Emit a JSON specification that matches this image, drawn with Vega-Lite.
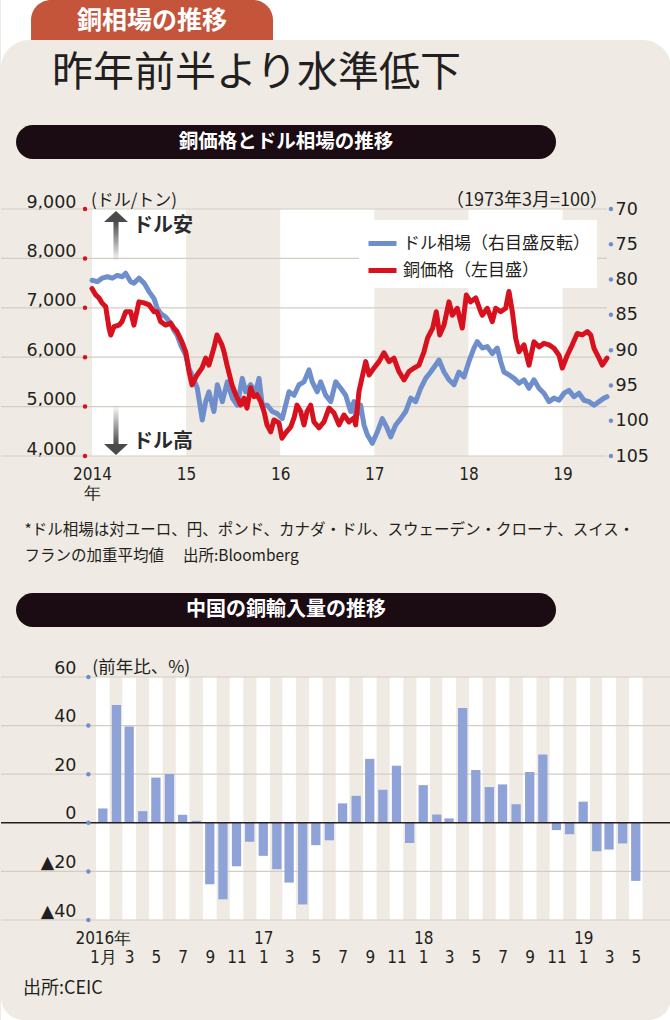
{
  "$schema": "https://vega.github.io/schema/vega-lite/v6.json",
  "padding": 0,
  "background": "#EFEBE4",
  "spacing": 0,
  "bounds": "flush",
  "config": {"view": {"stroke": null}, "font": "Noto Sans CJK JP", "axis": {"labelOverlap": false, "labelSeparation": -200, "labelFlush": false, "labelLimit": 400}},
  "vconcat": [
    {
      "width": 670, "height": 40,
      "view": {"fill": "#ffffff", "stroke": null},
      "data": {"values": [{"label": "銅相場の推移"}]},
      "layer": [
        {"mark": {"type": "rect", "fill": "#C4553A", "cornerRadiusTopLeft": 22, "cornerRadiusTopRight": 22},
         "encoding": {
           "x": {"datum": 0.0448, "scale": {"domain": [0, 1], "nice": false, "zero": false}, "axis": null},
           "x2": {"datum": 0.406},
           "y": {"datum": 1, "scale": {"domain": [0, 1], "nice": false, "zero": false}, "axis": null},
           "y2": {"datum": 0}}},
        {"mark": {"type": "text", "color": "#ffffff", "fontSize": 25, "fontWeight": "bold", "align": "center", "baseline": "middle"},
         "encoding": {"x": {"datum": 0.2254, "axis": null}, "y": {"datum": 0.475, "axis": null}, "text": {"field": "label"}}}
      ]
    },
    {
      "width": 670, "height": 169,
      "view": {"fill": "#ffffff", "stroke": null},
      "data": {"values": [{"title": "昨年前半より水準低下", "banner": "銅価格とドル相場の推移"}]},
      "layer": [
        {"mark": {"type": "rect", "fill": "#EFEBE4", "cornerRadiusTopLeft": 28, "cornerRadiusTopRight": 28},
         "encoding": {
           "x": {"datum": 0, "scale": {"domain": [0, 1], "nice": false, "zero": false}, "axis": null},
           "x2": {"datum": 1},
           "y": {"datum": 1, "scale": {"domain": [0, 1], "nice": false, "zero": false}, "axis": null},
           "y2": {"datum": 0}}},
        {"mark": {"type": "text", "color": "#231F20", "fontSize": 41, "fontWeight": "normal", "align": "left", "baseline": "middle"},
         "encoding": {"x": {"datum": 0.076, "axis": null}, "y": {"datum": 0.799, "axis": null}, "text": {"field": "title"}}},
        {"mark": {"type": "rect", "fill": "#1B0B12", "cornerRadius": 17},
         "encoding": {"x": {"datum": 0.0224, "axis": null}, "x2": {"datum": 0.8284}, "y": {"datum": 0.497, "axis": null}, "y2": {"datum": 0.296}}},
        {"mark": {"type": "text", "color": "#ffffff", "fontSize": 19.5, "fontWeight": "bold", "align": "center", "baseline": "middle"},
         "encoding": {"x": {"datum": 0.4254, "axis": null}, "y": {"datum": 0.3964, "axis": null}, "text": {"field": "banner"}}}
      ]
    },
    {
      "width": 606, "height": 247,
      "resolve": {"scale": {"y": "independent"}},
      "layer": [
        {
          "layer": [
            {"data": {"values": [{"from": 2014, "to": 2015}, {"from": 2016, "to": 2017}, {"from": 2018, "to": 2019}]},
             "mark": {"type": "rect", "fill": "#ffffff"},
             "encoding": {
               "x": {"field": "from", "type": "quantitative", "title": null,
                     "scale": {"domain": [2013.033, 2019.473], "nice": false, "zero": false},
                     "axis": {"orient": "bottom", "values": [2014, 2015, 2016, 2017, 2018, 2019], "tickCount": 50,
                              "labelExpr": "datum.value == 2014 ? ['2014', '年'] : '' + (datum.value - 2000)",
                              "grid": false, "ticks": false, "domain": false,
                              "labelFont": "DejaVu Sans Condensed, Liberation Sans Narrow, Liberation Sans, sans-serif", "labelFontSize": 17, "labelColor": "#231F20",
                              "labelPadding": 10, "labelLineHeight": 19, "labelBaseline": "top",
                              "labelFlush": false, "labelOverlap": false, "labelSeparation": -200}},
               "x2": {"field": "to"},
               "y": {"datum": 9000, "title": null, "scale": {"domain": [4000, 9000], "nice": false, "zero": false}},
               "y2": {"datum": 4000}}},
            {"data": {"values": [{"price": 4000}, {"price": 5000}, {"price": 6000}, {"price": 7000}, {"price": 8000}, {"price": 9000}]},
             "mark": {"type": "rule", "color": "#D3CDC4", "strokeWidth": 1.2},
             "encoding": {
               "y": {"field": "price", "type": "quantitative", "title": null,
                     "scale": {"domain": [4000, 9000], "nice": false, "zero": false},
                     "axis": {"orient": "left", "values": [4000, 5000, 6000, 7000, 8000, 9000], "tickCount": 50, "format": ",d",
                              "grid": false, "ticks": false, "tickSize": 0, "domain": false,
                              "labelPadding": -75, "labelAlign": "right", "labelBaseline": "alphabetic", "labelOffset": -2,
                              "labelFont": "DejaVu Sans", "labelFontSize": 17.5, "labelColor": "#231F20",
                              "labelFlush": false, "labelOverlap": false, "labelSeparation": -200}}}}
          ]
        },
        {
          "layer": [
            {"data": {"values": [
              {"year": 2014.000, "index": 80.1}, {"year": 2014.056, "index": 80.3}, {"year": 2014.109, "index": 79.8}, {"year": 2014.163, "index": 79.6},
              {"year": 2014.216, "index": 79.8}, {"year": 2014.269, "index": 79.4}, {"year": 2014.322, "index": 79.6}, {"year": 2014.358, "index": 79.1},
              {"year": 2014.411, "index": 80.3}, {"year": 2014.446, "index": 80.5}, {"year": 2014.499, "index": 79.8}, {"year": 2014.553, "index": 80.5},
              {"year": 2014.606, "index": 81.7}, {"year": 2014.659, "index": 82.7}, {"year": 2014.694, "index": 84.1}, {"year": 2014.730, "index": 84.8},
              {"year": 2014.783, "index": 85.3}, {"year": 2014.836, "index": 86.2}, {"year": 2014.871, "index": 87.2}, {"year": 2014.906, "index": 87.9},
              {"year": 2014.943, "index": 89.3}, {"year": 2014.996, "index": 90.7}, {"year": 2015.031, "index": 92.6}, {"year": 2015.084, "index": 94.2},
              {"year": 2015.119, "index": 95.4}, {"year": 2015.172, "index": 99.9}, {"year": 2015.208, "index": 97.3}, {"year": 2015.243, "index": 95.9},
              {"year": 2015.296, "index": 98.7}, {"year": 2015.332, "index": 94.9}, {"year": 2015.385, "index": 97.3}, {"year": 2015.438, "index": 94.5},
              {"year": 2015.491, "index": 96.8}, {"year": 2015.544, "index": 97.8}, {"year": 2015.597, "index": 94.0}, {"year": 2015.633, "index": 95.9},
              {"year": 2015.686, "index": 94.9}, {"year": 2015.740, "index": 95.9}, {"year": 2015.775, "index": 94.0}, {"year": 2015.810, "index": 97.8},
              {"year": 2015.863, "index": 97.8}, {"year": 2015.916, "index": 98.7}, {"year": 2015.969, "index": 99.0}, {"year": 2016.022, "index": 99.7},
              {"year": 2016.058, "index": 97.8}, {"year": 2016.094, "index": 95.9}, {"year": 2016.147, "index": 96.4}, {"year": 2016.200, "index": 94.9},
              {"year": 2016.253, "index": 94.5}, {"year": 2016.306, "index": 92.8}, {"year": 2016.341, "index": 94.5}, {"year": 2016.394, "index": 95.9},
              {"year": 2016.430, "index": 94.5}, {"year": 2016.484, "index": 96.4}, {"year": 2016.537, "index": 97.3}, {"year": 2016.590, "index": 94.5},
              {"year": 2016.643, "index": 95.4}, {"year": 2016.696, "index": 96.4}, {"year": 2016.749, "index": 98.7}, {"year": 2016.784, "index": 97.3},
              {"year": 2016.802, "index": 99.7}, {"year": 2016.855, "index": 97.8}, {"year": 2016.891, "index": 100.6}, {"year": 2016.926, "index": 102.0},
              {"year": 2016.979, "index": 103.2}, {"year": 2017.032, "index": 101.6}, {"year": 2017.085, "index": 99.7}, {"year": 2017.138, "index": 101.1},
              {"year": 2017.174, "index": 102.3}, {"year": 2017.227, "index": 100.6}, {"year": 2017.281, "index": 99.7}, {"year": 2017.334, "index": 98.7},
              {"year": 2017.387, "index": 96.8}, {"year": 2017.440, "index": 97.3}, {"year": 2017.493, "index": 95.4}, {"year": 2017.546, "index": 94.0},
              {"year": 2017.599, "index": 93.1}, {"year": 2017.652, "index": 92.1}, {"year": 2017.688, "index": 91.4}, {"year": 2017.741, "index": 93.1},
              {"year": 2017.794, "index": 94.2}, {"year": 2017.847, "index": 94.9}, {"year": 2017.900, "index": 93.1}, {"year": 2017.953, "index": 93.8},
              {"year": 2018.006, "index": 91.6}, {"year": 2018.059, "index": 89.7}, {"year": 2018.094, "index": 88.8}, {"year": 2018.148, "index": 89.7},
              {"year": 2018.201, "index": 89.5}, {"year": 2018.254, "index": 90.5}, {"year": 2018.307, "index": 89.7}, {"year": 2018.343, "index": 91.6},
              {"year": 2018.378, "index": 93.1}, {"year": 2018.431, "index": 93.5}, {"year": 2018.485, "index": 94.0}, {"year": 2018.538, "index": 94.7},
              {"year": 2018.591, "index": 94.2}, {"year": 2018.644, "index": 95.4}, {"year": 2018.697, "index": 94.2}, {"year": 2018.750, "index": 95.4},
              {"year": 2018.803, "index": 96.1}, {"year": 2018.857, "index": 97.3}, {"year": 2018.910, "index": 96.8}, {"year": 2018.963, "index": 97.1},
              {"year": 2019.016, "index": 96.1}, {"year": 2019.069, "index": 95.7}, {"year": 2019.122, "index": 96.6}, {"year": 2019.175, "index": 96.1},
              {"year": 2019.228, "index": 97.1}, {"year": 2019.281, "index": 97.3}, {"year": 2019.335, "index": 97.8}, {"year": 2019.388, "index": 97.3},
              {"year": 2019.441, "index": 96.8}, {"year": 2019.473, "index": 96.6}
             ]},
             "mark": {"type": "line", "strokeWidth": 5, "strokeJoin": "round", "strokeCap": "round"},
             "encoding": {
               "x": {"field": "year", "type": "quantitative", "title": null},
               "y": {"field": "index", "type": "quantitative", "title": null,
                     "scale": {"domain": [70, 105], "reverse": true, "nice": false, "zero": false},
                     "axis": {"orient": "right", "values": [70, 75, 80, 85, 90, 95, 100, 105], "tickCount": 50, "format": "d",
                              "grid": false, "ticks": false, "tickSize": 0, "domain": false,
                              "labelPadding": 8, "labelAlign": "left", "labelBaseline": "middle",
                              "labelFont": "DejaVu Sans", "labelFontSize": 17.5, "labelColor": "#231F20",
                              "labelFlush": false, "labelOverlap": false, "labelSeparation": -200}},
               "color": {"datum": "ドル相場（右目盛反転）",
                         "scale": {"domain": ["ドル相場（右目盛反転）", "銅価格（左目盛）"], "range": ["#6F8FCC", "#D7111E"]},
                         "legend": {"orient": "none", "legendX": 358, "legendY": 220, "title": null,
                                    "symbolType": "stroke", "symbolStrokeWidth": 5, "symbolSize": 784,
                                    "labelFontSize": 17, "labelFont": "Noto Sans CJK JP", "labelColor": "#231F20", "labelLimit": 400,
                                    "fillColor": "#ffffff", "padding": 7, "rowPadding": -8, "labelOffset": 4}}}},
            {"data": {"values": [{"index": 70}, {"index": 75}, {"index": 80}, {"index": 85}, {"index": 90}, {"index": 95}, {"index": 100}, {"index": 105}]},
             "mark": {"type": "point", "filled": true, "size": 20, "color": "#6F8FCC", "opacity": 1, "clip": false},
             "encoding": {
               "x": {"datum": 2019.515, "title": null},
               "y": {"field": "index", "type": "quantitative", "title": null}}}
          ]
        },
        {
          "layer": [
            {"data": {"values": [
              {"year": 2014.000, "price": 7390}, {"year": 2014.040, "price": 7260}, {"year": 2014.074, "price": 7200}, {"year": 2014.106, "price": 7100},
              {"year": 2014.146, "price": 7020}, {"year": 2014.181, "price": 6590}, {"year": 2014.199, "price": 6450}, {"year": 2014.234, "price": 6620},
              {"year": 2014.287, "price": 6650}, {"year": 2014.319, "price": 6720}, {"year": 2014.358, "price": 6920}, {"year": 2014.411, "price": 6920},
              {"year": 2014.446, "price": 6650}, {"year": 2014.499, "price": 7120}, {"year": 2014.553, "price": 7100}, {"year": 2014.606, "price": 7060},
              {"year": 2014.659, "price": 6920}, {"year": 2014.691, "price": 6920}, {"year": 2014.730, "price": 6720}, {"year": 2014.783, "price": 6650},
              {"year": 2014.836, "price": 6690}, {"year": 2014.871, "price": 6590}, {"year": 2014.903, "price": 6520}, {"year": 2014.956, "price": 6310},
              {"year": 2014.996, "price": 6110}, {"year": 2015.031, "price": 5710}, {"year": 2015.063, "price": 5440}, {"year": 2015.116, "price": 5640},
              {"year": 2015.169, "price": 5780}, {"year": 2015.208, "price": 5980}, {"year": 2015.243, "price": 5840}, {"year": 2015.296, "price": 6190},
              {"year": 2015.328, "price": 6450}, {"year": 2015.381, "price": 6250}, {"year": 2015.403, "price": 6110}, {"year": 2015.435, "price": 5840},
              {"year": 2015.488, "price": 5440}, {"year": 2015.527, "price": 5240}, {"year": 2015.580, "price": 5030}, {"year": 2015.615, "price": 5170},
              {"year": 2015.647, "price": 4970}, {"year": 2015.686, "price": 5380}, {"year": 2015.722, "price": 5200}, {"year": 2015.753, "price": 5240},
              {"year": 2015.793, "price": 5100}, {"year": 2015.828, "price": 4900}, {"year": 2015.860, "price": 4630}, {"year": 2015.899, "price": 4490},
              {"year": 2015.934, "price": 4730}, {"year": 2015.987, "price": 4670}, {"year": 2016.019, "price": 4360}, {"year": 2016.058, "price": 4470},
              {"year": 2016.112, "price": 4590}, {"year": 2016.147, "price": 4770}, {"year": 2016.179, "price": 5030}, {"year": 2016.218, "price": 4900},
              {"year": 2016.253, "price": 4630}, {"year": 2016.285, "price": 4900}, {"year": 2016.324, "price": 5030}, {"year": 2016.359, "price": 4690},
              {"year": 2016.412, "price": 4570}, {"year": 2016.465, "price": 4690}, {"year": 2016.519, "price": 4970}, {"year": 2016.572, "price": 4870},
              {"year": 2016.625, "price": 4630}, {"year": 2016.678, "price": 4830}, {"year": 2016.731, "price": 4690}, {"year": 2016.784, "price": 4770},
              {"year": 2016.802, "price": 4630}, {"year": 2016.837, "price": 5300}, {"year": 2016.869, "price": 5580}, {"year": 2016.909, "price": 5910},
              {"year": 2016.944, "price": 5640}, {"year": 2016.997, "price": 5780}, {"year": 2017.050, "price": 5910}, {"year": 2017.103, "price": 6090},
              {"year": 2017.156, "price": 5910}, {"year": 2017.209, "price": 5980}, {"year": 2017.262, "price": 5710}, {"year": 2017.316, "price": 5540},
              {"year": 2017.369, "price": 5710}, {"year": 2017.422, "price": 5780}, {"year": 2017.475, "price": 5840}, {"year": 2017.528, "price": 6110},
              {"year": 2017.567, "price": 6390}, {"year": 2017.621, "price": 6590}, {"year": 2017.659, "price": 6920}, {"year": 2017.695, "price": 6450},
              {"year": 2017.741, "price": 6650}, {"year": 2017.794, "price": 7120}, {"year": 2017.829, "price": 6850}, {"year": 2017.882, "price": 6990},
              {"year": 2017.935, "price": 6590}, {"year": 2017.978, "price": 7260}, {"year": 2018.024, "price": 7120}, {"year": 2018.078, "price": 7200},
              {"year": 2018.131, "price": 6920}, {"year": 2018.148, "price": 6850}, {"year": 2018.201, "price": 6990}, {"year": 2018.254, "price": 6720},
              {"year": 2018.290, "price": 6990}, {"year": 2018.343, "price": 6920}, {"year": 2018.396, "price": 6990}, {"year": 2018.431, "price": 7330},
              {"year": 2018.467, "price": 6920}, {"year": 2018.503, "price": 6380}, {"year": 2018.538, "price": 6110}, {"year": 2018.591, "price": 6250},
              {"year": 2018.644, "price": 5840}, {"year": 2018.697, "price": 6310}, {"year": 2018.750, "price": 6210}, {"year": 2018.803, "price": 6280},
              {"year": 2018.857, "price": 6250}, {"year": 2018.910, "price": 6180}, {"year": 2018.963, "price": 6040}, {"year": 2018.998, "price": 5780},
              {"year": 2019.051, "price": 6040}, {"year": 2019.104, "price": 6250}, {"year": 2019.157, "price": 6480}, {"year": 2019.210, "price": 6450},
              {"year": 2019.264, "price": 6520}, {"year": 2019.300, "price": 6450}, {"year": 2019.335, "price": 6180}, {"year": 2019.388, "price": 5980},
              {"year": 2019.423, "price": 5840}, {"year": 2019.473, "price": 5980}
             ]},
             "mark": {"type": "line", "strokeWidth": 5, "strokeJoin": "round", "strokeCap": "round"},
             "encoding": {
               "x": {"field": "year", "type": "quantitative", "title": null},
               "y": {"field": "price", "type": "quantitative", "title": null,
                     "scale": {"domain": [4000, 9000], "nice": false, "zero": false}, "axis": null},
               "color": {"datum": "銅価格（左目盛）"}}},
            {"data": {"values": [{"price": 4000}, {"price": 5000}, {"price": 6000}, {"price": 7000}, {"price": 8000}, {"price": 9000}]},
             "mark": {"type": "point", "filled": true, "size": 20, "color": "#D7111E", "opacity": 1, "clip": false},
             "encoding": {
               "x": {"datum": 2013.926, "title": null},
               "y": {"field": "price", "type": "quantitative", "axis": null}}},
            {"data": {"values": [{}]},
             "mark": {"type": "rect", "fill": {"gradient": "linear", "x1": 0, "y1": 0, "x2": 0, "y2": 1,
                       "stops": [{"offset": 0, "color": "#4A4A4A"}, {"offset": 1, "color": "rgba(74,74,74,0)"}]}},
             "encoding": {"x": {"datum": 2014.228, "title": null}, "x2": {"datum": 2014.282},
                          "y": {"datum": 8740, "axis": null}, "y2": {"datum": 7930}}},
            {"data": {"values": [{}]},
             "mark": {"type": "rect", "fill": {"gradient": "linear", "x1": 0, "y1": 0, "x2": 0, "y2": 1,
                       "stops": [{"offset": 0, "color": "rgba(74,74,74,0)"}, {"offset": 1, "color": "#4A4A4A"}]}},
             "encoding": {"x": {"datum": 2014.228, "title": null}, "x2": {"datum": 2014.282},
                          "y": {"datum": 5030, "axis": null}, "y2": {"datum": 4230}}},
            {"data": {"values": [{}]},
             "mark": {"type": "point", "filled": true, "opacity": 1, "color": "#4A4A4A", "size": 576, "shape": "M-1,0.46L0,-0.46L1,0.46Z", "clip": false},
             "encoding": {"x": {"datum": 2014.255, "title": null}, "y": {"datum": 8848, "axis": null}}},
            {"data": {"values": [{}]},
             "mark": {"type": "point", "filled": true, "opacity": 1, "color": "#4A4A4A", "size": 576, "shape": "M-1,-0.46L0,0.46L1,-0.46Z", "clip": false},
             "encoding": {"x": {"datum": 2014.255, "title": null}, "y": {"datum": 4132, "axis": null}}},
            {"data": {"values": [{}]},
             "mark": {"type": "text", "text": "ドル安", "fontSize": 20, "fontWeight": "bold", "color": "#2B2B2B", "align": "left", "baseline": "middle"},
             "encoding": {"x": {"datum": 2014.436, "title": null}, "y": {"datum": 8655, "axis": null}}},
            {"data": {"values": [{}]},
             "mark": {"type": "text", "text": "ドル高", "fontSize": 20, "fontWeight": "bold", "color": "#2B2B2B", "align": "left", "baseline": "middle"},
             "encoding": {"x": {"datum": 2014.436, "title": null}, "y": {"datum": 4283, "axis": null}}},
            {"data": {"values": [{}]},
             "mark": {"type": "text", "text": "(ドル/トン)", "fontSize": 17, "color": "#231F20", "align": "left", "baseline": "alphabetic", "dy": -3, "clip": false},
             "encoding": {"x": {"datum": 2013.989, "title": null}, "y": {"datum": 9000, "axis": null}}},
            {"data": {"values": [{}]},
             "mark": {"type": "text", "text": "（1973年3月=100）", "fontSize": 18, "color": "#231F20", "align": "right", "baseline": "alphabetic", "dy": -3, "clip": false},
             "encoding": {"x": {"datum": 2019.483, "title": null}, "y": {"datum": 9000, "axis": null}}}
          ]
        }
      ]
    },
    {
      "width": 670, "height": 221,
      "data": {"values": [{"note1": "*ドル相場は対ユーロ、円、ポンド、カナダ・ドル、スウェーデン・クローナ、スイス・", "note2": "　フランの加重平均値　 出所:Bloomberg", "banner": "中国の銅輸入量の推移"}]},
      "layer": [
        {"mark": {"type": "text", "color": "#231F20", "fontSize": 15.5, "align": "left", "baseline": "middle"},
         "encoding": {
           "x": {"datum": 0.035, "scale": {"domain": [0, 1], "nice": false, "zero": false}, "axis": null},
           "y": {"datum": 0.665, "scale": {"domain": [0, 1], "nice": false, "zero": false}, "axis": null},
           "text": {"field": "note1"}}},
        {"mark": {"type": "text", "color": "#231F20", "fontSize": 15.5, "align": "left", "baseline": "middle"},
         "encoding": {"x": {"datum": 0.035, "axis": null}, "y": {"datum": 0.5475, "axis": null}, "text": {"field": "note2"}}},
        {"mark": {"type": "rect", "fill": "#1B0B12", "cornerRadius": 17},
         "encoding": {"x": {"datum": 0.0224, "axis": null}, "x2": {"datum": 0.8284}, "y": {"datum": 0.380, "axis": null}, "y2": {"datum": 0.2262}}},
        {"mark": {"type": "text", "color": "#ffffff", "fontSize": 20, "fontWeight": "bold", "align": "center", "baseline": "middle"},
         "encoding": {"x": {"datum": 0.4254, "axis": null}, "y": {"datum": 0.3032, "axis": null}, "text": {"field": "banner"}}}
      ]
    },
    {
      "width": 670, "height": 243,
      "data": {"values": [
        {"date": "2016-01-01", "yoy": 5.9}, {"date": "2016-02-01", "yoy": 48.5}, {"date": "2016-03-01", "yoy": 39.6}, {"date": "2016-04-01", "yoy": 4.8},
        {"date": "2016-05-01", "yoy": 18.6}, {"date": "2016-06-01", "yoy": 20.1}, {"date": "2016-07-01", "yoy": 3.3}, {"date": "2016-08-01", "yoy": 0.8},
        {"date": "2016-09-01", "yoy": -25.3}, {"date": "2016-10-01", "yoy": -31.5}, {"date": "2016-11-01", "yoy": -17.9}, {"date": "2016-12-01", "yoy": -7.8},
        {"date": "2017-01-01", "yoy": -13.6}, {"date": "2017-02-01", "yoy": -19.1}, {"date": "2017-03-01", "yoy": -24.6}, {"date": "2017-04-01", "yoy": -33.6},
        {"date": "2017-05-01", "yoy": -9.2}, {"date": "2017-06-01", "yoy": -7.2}, {"date": "2017-07-01", "yoy": 8.0}, {"date": "2017-08-01", "yoy": 11.1},
        {"date": "2017-09-01", "yoy": 26.3}, {"date": "2017-10-01", "yoy": 13.6}, {"date": "2017-11-01", "yoy": 23.5}, {"date": "2017-12-01", "yoy": -8.3},
        {"date": "2018-01-01", "yoy": 15.5}, {"date": "2018-02-01", "yoy": 3.4}, {"date": "2018-03-01", "yoy": 1.8}, {"date": "2018-04-01", "yoy": 47.2},
        {"date": "2018-05-01", "yoy": 21.7}, {"date": "2018-06-01", "yoy": 14.7}, {"date": "2018-07-01", "yoy": 15.8}, {"date": "2018-08-01", "yoy": 7.6},
        {"date": "2018-09-01", "yoy": 20.9}, {"date": "2018-10-01", "yoy": 28.1}, {"date": "2018-11-01", "yoy": -3.0}, {"date": "2018-12-01", "yoy": -4.7},
        {"date": "2019-01-01", "yoy": 8.7}, {"date": "2019-02-01", "yoy": -11.7}, {"date": "2019-03-01", "yoy": -11.0}, {"date": "2019-04-01", "yoy": -8.5},
        {"date": "2019-05-01", "yoy": -23.9}
      ], "format": {"parse": {"date": "utc:'%Y-%m-%d'"}}},
      "layer": [
        {"transform": [{"filter": "utcmonth(datum.date) % 2 == 0"}],
         "mark": {"type": "bar", "fill": "#ffffff", "size": 13.6},
         "encoding": {
           "x": {"field": "date", "type": "temporal", "title": null,
                 "scale": {"type": "utc", "domain": [{"year": 2015, "month": 5, "date": 25, "utc": true}, {"year": 2019, "month": 7, "date": 9, "utc": true}]},
                 "axis": {"orient": "bottom", "tickCount": 100,
                          "values": [
                            {"year": 2016, "month": 1, "date": 1, "utc": true}, {"year": 2016, "month": 3, "date": 1, "utc": true},
                            {"year": 2016, "month": 5, "date": 1, "utc": true}, {"year": 2016, "month": 7, "date": 1, "utc": true},
                            {"year": 2016, "month": 9, "date": 1, "utc": true}, {"year": 2016, "month": 11, "date": 1, "utc": true},
                            {"year": 2017, "month": 1, "date": 1, "utc": true}, {"year": 2017, "month": 3, "date": 1, "utc": true},
                            {"year": 2017, "month": 5, "date": 1, "utc": true}, {"year": 2017, "month": 7, "date": 1, "utc": true},
                            {"year": 2017, "month": 9, "date": 1, "utc": true}, {"year": 2017, "month": 11, "date": 1, "utc": true},
                            {"year": 2018, "month": 1, "date": 1, "utc": true}, {"year": 2018, "month": 3, "date": 1, "utc": true},
                            {"year": 2018, "month": 5, "date": 1, "utc": true}, {"year": 2018, "month": 7, "date": 1, "utc": true},
                            {"year": 2018, "month": 9, "date": 1, "utc": true}, {"year": 2018, "month": 11, "date": 1, "utc": true},
                            {"year": 2019, "month": 1, "date": 1, "utc": true}, {"year": 2019, "month": 3, "date": 1, "utc": true},
                            {"year": 2019, "month": 5, "date": 1, "utc": true}],
                          "labelExpr": "utcmonth(datum.value) == 0 ? (utcyear(datum.value) == 2016 ? ['2016年', '1月'] : ['' + (utcyear(datum.value) - 2000), '1']) : ['', '' + (utcmonth(datum.value) + 1)]",
                          "grid": false, "ticks": false, "domain": false,
                          "labelFont": "DejaVu Sans Condensed, Liberation Sans Narrow, Liberation Sans, sans-serif", "labelFontSize": 17, "labelColor": "#231F20",
                          "labelPadding": 10, "labelLineHeight": 19, "labelBaseline": "top",
                          "labelFlush": false, "labelOverlap": false, "labelSeparation": -200}},
           "y": {"datum": 60, "title": null, "scale": {"domain": [-40, 60], "nice": false, "zero": false}},
           "y2": {"datum": -40}}},
        {"data": {"values": [{"yoy": 60}, {"yoy": 40}, {"yoy": 20}, {"yoy": -20}, {"yoy": -40}]},
         "mark": {"type": "rule", "color": "#D3CDC4", "strokeWidth": 1.2},
         "encoding": {
           "y": {"field": "yoy", "type": "quantitative", "title": null,
                 "axis": {"orient": "left", "values": [60, 40, 20, 0, -20, -40], "tickCount": 50,
                          "labelExpr": "datum.value < 0 ? '▲' + (-datum.value) : '' + datum.value",
                          "grid": false, "ticks": false, "tickSize": 0, "domain": false,
                          "labelPadding": -75, "labelAlign": "right", "labelBaseline": "alphabetic", "labelOffset": -4,
                          "labelFont": "DejaVu Sans", "labelFontSize": 17.5, "labelColor": "#231F20",
                          "labelFlush": false, "labelOverlap": false, "labelSeparation": -200}}}},
        {"mark": {"type": "bar", "fill": "#8FA3D8", "size": 9.3},
         "encoding": {
           "x": {"field": "date", "type": "temporal", "title": null},
           "y": {"field": "yoy", "type": "quantitative", "title": null}}},
        {"data": {"values": [{}]},
         "mark": {"type": "rule", "color": "#231F20", "strokeWidth": 1.5},
         "encoding": {"y": {"datum": 0, "title": null}}},
        {"data": {"values": [{"yoy": 60}, {"yoy": 40}, {"yoy": 20}, {"yoy": 0}, {"yoy": -20}, {"yoy": -40}]},
         "mark": {"type": "point", "filled": true, "size": 20, "color": "#6F8FCC", "opacity": 1, "clip": false},
         "encoding": {
           "x": {"datum": {"year": 2015, "month": 11, "date": 29, "utc": true}, "title": null},
           "y": {"field": "yoy", "type": "quantitative", "title": null}}},
        {"data": {"values": [{}]},
         "mark": {"type": "text", "text": "(前年比、%)", "fontSize": 17.5, "color": "#231F20", "align": "left", "baseline": "alphabetic", "dy": -4, "clip": false},
         "encoding": {"x": {"datum": {"year": 2015, "month": 12, "date": 8, "utc": true}, "title": null}, "y": {"datum": 60, "title": null}}}
      ]
    },
    {
      "width": 670, "height": 100,
      "data": {"values": [{"source": "出所:CEIC"}]},
      "layer": [
        {"mark": {"type": "rect", "fill": "#ffffff"},
         "encoding": {
           "x": {"datum": 0, "scale": {"domain": [0, 1], "nice": false, "zero": false}, "axis": null},
           "x2": {"datum": 1},
           "y": {"datum": 0.45, "scale": {"domain": [0, 1], "nice": false, "zero": false}, "axis": null},
           "y2": {"datum": 0}}},
        {"mark": {"type": "rect", "fill": "#EFEBE4", "cornerRadiusBottomLeft": 28, "cornerRadiusBottomRight": 28},
         "encoding": {"x": {"datum": 0, "axis": null}, "x2": {"datum": 1}, "y": {"datum": 0.45, "axis": null}, "y2": {"datum": 0}}},
        {"mark": {"type": "text", "color": "#231F20", "fontSize": 18, "align": "left", "baseline": "middle"},
         "encoding": {"x": {"datum": 0.0328, "axis": null}, "y": {"datum": 0.31, "axis": null}, "text": {"field": "source"}}}
      ]
    }
  ]
}
